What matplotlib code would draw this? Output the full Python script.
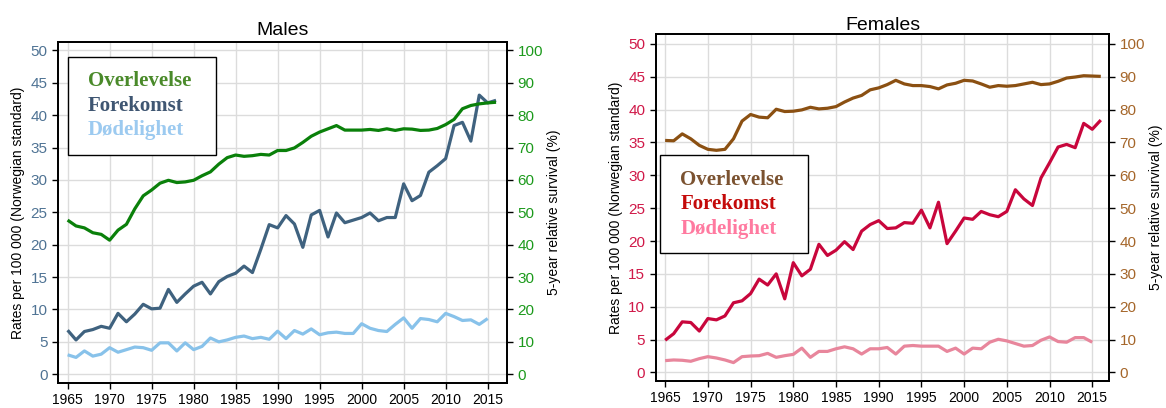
import matplotlib

matplotlib.use("Agg")
import matplotlib.pyplot as plt
import numpy as np

plt.rcParams["font.family"] = ["Liberation Sans", "DejaVu Sans"]

years = np.arange(1965, 2017)
years_mort = np.arange(1965, 2016)

male_surv = [47.6, 45.8, 45.2, 43.7, 43.2, 41.4, 44.5, 46.3, 51.1, 55.1,
             56.9, 59.0, 59.9, 59.2, 59.4, 59.9, 61.3, 62.5, 64.9, 66.9,
             67.7, 67.3, 67.5, 67.9, 67.7, 69.1, 69.1, 69.9, 71.6, 73.5,
             74.8, 75.8, 76.8, 75.4, 75.4, 75.4, 75.6, 75.3, 75.8, 75.3,
             75.8, 75.7, 75.3, 75.4, 75.9, 77.1, 78.7, 82.0, 83.0, 83.5,
             83.8, 84.0]
male_inc = [6.8, 5.3, 6.6, 6.9, 7.4, 7.1, 9.4, 8.1, 9.3, 10.8,
            10.1, 10.2, 13.1, 11.1, 12.4, 13.6, 14.2, 12.4, 14.3, 15.1,
            15.6, 16.7, 15.7, 19.3, 23.1, 22.6, 24.5, 23.2, 19.6, 24.6,
            25.3, 21.2, 24.9, 23.4, 23.8, 24.2, 24.9, 23.7, 24.2, 24.2,
            29.4, 26.8, 27.6, 31.2, 32.2, 33.3, 38.4, 38.9, 36.0, 43.1,
            41.9, 42.3]
male_mort = [3.0, 2.6, 3.6, 2.8, 3.1, 4.1, 3.4, 3.8, 4.2, 4.1,
             3.7, 4.85, 4.85, 3.6, 4.85, 3.8, 4.3, 5.6, 5.0, 5.3,
             5.7, 5.9, 5.5, 5.7, 5.4, 6.65, 5.5, 6.75, 6.2, 7.0,
             6.1, 6.4, 6.5, 6.3, 6.3, 7.8, 7.1, 6.75, 6.6, 7.7,
             8.7, 7.1, 8.6, 8.45, 8.1, 9.4, 8.9, 8.3, 8.4, 7.7,
             8.6]

fem_surv = [70.6, 70.5, 72.6, 71.1, 69.1, 67.9, 67.6, 67.9, 71.1, 76.5,
            78.5, 77.7, 77.5, 80.1, 79.4, 79.5, 79.9, 80.7, 80.2, 80.4,
            80.9, 82.3, 83.5, 84.3, 86.0, 86.6, 87.6, 88.9, 87.8, 87.3,
            87.3, 87.0, 86.3, 87.5, 88.0, 88.9, 88.7, 87.8, 86.8, 87.3,
            87.1, 87.3, 87.8, 88.3, 87.6, 87.8, 88.6, 89.6, 89.9, 90.3,
            90.2, 90.1]
fem_inc = [4.9, 5.9, 7.7, 7.6, 6.3, 8.2, 8.0, 8.6, 10.6, 10.9,
           12.0, 14.2, 13.3, 15.0, 11.2, 16.7, 14.7, 15.7, 19.5, 17.8,
           18.6, 19.9, 18.7, 21.5, 22.5, 23.1, 21.9, 22.0, 22.8, 22.7,
           24.7, 22.0, 25.9, 19.6, 21.5, 23.5, 23.3, 24.5, 24.0, 23.7,
           24.5, 27.8, 26.4, 25.4, 29.6, 31.9, 34.3, 34.7, 34.2, 37.9,
           37.0, 38.4]
fem_mort = [1.8, 1.9, 1.85, 1.7, 2.1, 2.4, 2.2, 1.9, 1.5, 2.4,
            2.5, 2.55, 2.9, 2.3, 2.55, 2.75, 3.7, 2.3, 3.2, 3.2,
            3.6, 3.9, 3.6, 2.8, 3.6, 3.6, 3.8, 2.8, 4.0, 4.1,
            4.0, 4.0, 4.0, 3.2, 3.7, 2.8, 3.7, 3.6, 4.6, 5.05,
            4.8, 4.4, 4.0, 4.1, 4.9, 5.4, 4.7, 4.6, 5.3, 5.3,
            4.6]

labels = ["Overlevelse", "Forekomst", "Dødelighet"]

panels = [
    dict(title="Males", surv=male_surv, inc=male_inc, mort=male_mort,
         rect=[0.0497, 0.0613, 0.3851, 0.8357], ylim=(-1.35, 51.3), xlim=(1963.85, 2017.3),
         line_cols=["#0a800a", "#3f627f", "#88c2ea"],
         text_cols=["#4a8a2a", "#3f5672", "#9ccaf0"],
         left_col="#4f7394", right_col="#1c9a1c",
         leg_box=(0.0216, 0.957, 0.330, 0.0), title_y=1.012),
    dict(title="Females", surv=fem_surv, inc=fem_inc, mort=fem_mort,
         rect=[0.5624, 0.0662, 0.3890, 0.8505], ylim=(-1.3, 51.5), xlim=(1963.9, 2017.0),
         line_cols=["#8b5012", "#c8063c", "#e8869c"],
         text_cols=["#7b5230", "#c40a0a", "#ff7aa0"],
         left_col="#d01848", right_col="#a5662a",
         leg_box=(0.0095, 0.651, 0.326, 0.0), title_y=1.004),
]

fig = plt.figure(figsize=(11.66, 4.08), dpi=100)

for p in panels:
    ax = fig.add_axes(p["rect"])
    ax2 = ax.twinx()
    ax.plot(years, p["inc"], color=p["line_cols"][1], lw=2.3, solid_capstyle="butt")
    ax.plot(years_mort, p["mort"], color=p["line_cols"][2], lw=2.3, solid_capstyle="butt")
    ax2.plot(years, p["surv"], color=p["line_cols"][0], lw=2.3, solid_capstyle="butt")

    ax.set_xlim(*p["xlim"])
    ax.set_ylim(*p["ylim"])
    ax2.set_ylim(p["ylim"][0] * 2, p["ylim"][1] * 2)
    ax.set_xticks(np.arange(1965, 2016, 5))
    ax.set_yticks(np.arange(0, 51, 5))
    ax2.set_yticks(np.arange(0, 101, 10))
    ax.grid(True, color="#dcdcdc", lw=1.0)
    ax.set_axisbelow(True)

    ax.tick_params(axis="x", labelsize=10, length=4, width=1, colors="black")
    ax.tick_params(axis="y", labelsize=11, length=4, width=1, color="black",
                   labelcolor=p["left_col"])
    ax2.tick_params(axis="y", labelsize=11, length=4, width=1, color="black",
                    labelcolor=p["right_col"])
    for a in (ax, ax2):
        for s in a.spines.values():
            s.set_linewidth(1.3)
            s.set_color("black")

    ax.set_ylabel("Rates per 100 000 (Norwegian standard)", fontsize=10, labelpad=4)
    ax2.set_ylabel("5-year relative survival (%)", fontsize=10, labelpad=3)
    ax.set_title(p["title"], fontsize=14, y=p["title_y"], pad=2)

    # text-only legend, stretched to the reference box width
    handles = [plt.Line2D([], [], color="none") for _ in labels]
    leg = ax2.legend(handles, labels, loc="upper left", bbox_to_anchor=p["leg_box"],
                     mode="expand", handlelength=0.27, handletextpad=0,
                     borderpad=0.7, labelspacing=0.22,
                     fancybox=False, framealpha=1, edgecolor="black",
                     prop={"family": "Liberation Serif", "weight": "bold", "size": 15},
                     borderaxespad=0)
    leg.get_frame().set_linewidth(1.0)
    for t, c in zip(leg.get_texts(), p["text_cols"]):
        t.set_color(c)

fig.savefig("out.png", dpi=100, facecolor="white")
